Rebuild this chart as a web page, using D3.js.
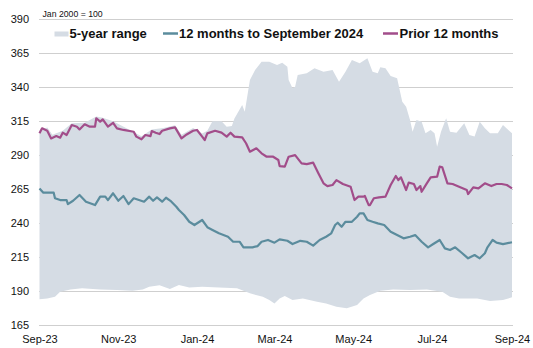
<!DOCTYPE html>
<html><head><meta charset="utf-8">
<script src="https://cdn.jsdelivr.net/npm/d3@7"></script>
<style>
html,body{margin:0;padding:0;background:#fff;}
svg{display:block;font-family:"Liberation Sans",Arial,sans-serif;}
</style></head>
<body><svg id="c" width="533" height="348"></svg>
<script>
// ---- data ----
const yTicks = [165, 190, 215, 240, 265, 290, 315, 340, 365, 390];
const xTickDates = ["2023-09-01","2023-11-01","2024-01-01","2024-03-01","2024-05-01","2024-07-01","2024-09-01"];
const unitLabel = "Jan 2000 = 100";
const legendLabels = ["5-year range", "12 months to September 2024", "Prior 12 months"];

const series12m = [
["2023-09-01",265.5],["2023-09-04",262.4],["2023-09-12",262.4],["2023-09-13",258.3],["2023-09-17",257],
["2023-09-22",257],["2023-09-23",254],["2023-09-27",256.5],["2023-10-02",260.7],["2023-10-07",255.8],
["2023-10-14",253.3],["2023-10-18",259.5],["2023-10-22",259.5],["2023-10-24",257],["2023-10-28",262],
["2023-11-01",256.5],["2023-11-05",260],["2023-11-09",254],["2023-11-13",258.3],["2023-11-21",255.8],
["2023-11-25",259.5],["2023-11-28",256.5],["2023-12-01",259],["2023-12-05",255.8],["2023-12-08",258.7],
["2023-12-12",256],["2023-12-16",252.1],["2023-12-18",249.7],["2023-12-22",246],["2023-12-26",241],
["2023-12-30",238.6],["2024-01-05",242.3],["2024-01-09",237],["2024-01-13",235],["2024-01-18",232.5],
["2024-01-25",230],["2024-01-29",226.3],["2024-02-03",226.3],["2024-02-06",222.2],["2024-02-13",222.2],
["2024-02-17",223.1],["2024-02-20",226.3],["2024-02-25",227.6],["2024-03-01",225.6],["2024-03-05",228],
["2024-03-11",227],["2024-03-15",224.6],["2024-03-21",227],["2024-03-26",226.3],["2024-03-31",223.4],
["2024-04-05",227.6],["2024-04-10",230],["2024-04-14",232.5],["2024-04-17",238.6],["2024-04-19",240.3],
["2024-04-22",237.3],["2024-04-25",241],["2024-04-30",241],["2024-05-04",244.7],["2024-05-06",247.2],
["2024-05-09",247.2],["2024-05-12",242.3],["2024-05-16",241],["2024-05-20",239.8],["2024-05-25",238.6],
["2024-05-30",233.7],["2024-06-04",231.2],["2024-06-09",228.8],["2024-06-14",230],["2024-06-18",231.2],
["2024-06-23",226.3],["2024-06-28",222.2],["2024-07-02",224.6],["2024-07-07",227.6],["2024-07-11",221.4],
["2024-07-15",220.2],["2024-07-19",222.2],["2024-07-24",218.2],["2024-07-29",214.1],["2024-08-03",216.5],
["2024-08-07",214.1],["2024-08-11",217.8],["2024-08-13",222.2],["2024-08-17",227.6],["2024-08-20",225.6],
["2024-08-25",224.6],["2024-09-01",225.9]
];

const seriesPrior = [
["2023-09-01",306.1],["2023-09-03",309.8],["2023-09-07",308],["2023-09-10",302.4],["2023-09-14",304.1],
["2023-09-17",302.9],["2023-09-19",306.6],["2023-09-22",304.9],["2023-09-26",312.2],["2023-09-30",311],
["2023-10-02",309],["2023-10-06",312.8],["2023-10-10",311],["2023-10-14",311],["2023-10-15",317.2],
["2023-10-18",314.7],["2023-10-20",316.4],["2023-10-24",311],["2023-10-28",313.9],["2023-10-31",309.8],
["2023-11-05",308.6],["2023-11-13",307.3],["2023-11-15",303.7],["2023-11-19",301.7],["2023-11-22",304.9],
["2023-11-26",304.1],["2023-11-27",307.8],["2023-11-30",306.6],["2023-12-03",305.6],["2023-12-05",308],
["2023-12-11",309.8],["2023-12-15",310.5],["2023-12-20",302.4],["2023-12-24",305.3],["2023-12-29",308],
["2024-01-01",308.6],["2024-01-05",303.7],["2024-01-07",301.2],["2024-01-09",306.1],["2024-01-15",308],
["2024-01-20",306.6],["2024-01-24",303.7],["2024-01-27",306.6],["2024-01-30",303.7],["2024-02-05",303.2],
["2024-02-08",298.8],["2024-02-11",292.6],["2024-02-16",295.1],["2024-02-20",291.4],["2024-02-24",288.9],
["2024-02-29",288.9],["2024-03-04",286.5],["2024-03-05",282],["2024-03-09",281.6],["2024-03-12",288.9],
["2024-03-17",290.1],["2024-03-22",284],["2024-03-26",283.5],["2024-03-31",284.5],["2024-04-04",276.7],
["2024-04-08",269.3],["2024-04-11",267.3],["2024-04-15",268.1],["2024-04-18",271.7],["2024-04-23",268.8],
["2024-04-29",266.8],["2024-05-02",257],["2024-05-05",259.5],["2024-05-09",259.5],["2024-05-10",260],
["2024-05-13",253.3],["2024-05-14",253.3],["2024-05-17",258.3],["2024-05-21",259],["2024-05-26",259.5],
["2024-05-30",268.1],["2024-06-03",274.7],["2024-06-05",271.7],["2024-06-07",273.7],["2024-06-11",264.4],
["2024-06-13",269.8],["2024-06-17",268.8],["2024-06-19",264.4],["2024-06-22",267.3],["2024-06-23",263.1],
["2024-06-27",269.3],["2024-06-30",273.7],["2024-07-05",274.2],["2024-07-07",281.6],["2024-07-09",281.1],
["2024-07-13",269.3],["2024-07-17",268.8],["2024-07-22",266.8],["2024-07-28",264.4],["2024-07-29",261.4],
["2024-08-02",266.3],["2024-08-06",265.6],["2024-08-11",269.3],["2024-08-16",267.3],["2024-08-20",268.8],
["2024-08-24",268.8],["2024-08-28",268.1],["2024-09-01",265.6]
];

const rangeHigh = [
["2023-09-01",308],["2023-09-07",310.5],["2023-09-11",305],["2023-09-19",308],["2023-09-26",313.5],
["2023-10-06",314],["2023-10-15",318.5],["2023-10-20",317.5],["2023-10-28",315],["2023-11-07",310],
["2023-11-19",304],["2023-11-27",309],["2023-12-06",310],["2023-12-15",312],["2023-12-20",305],
["2023-12-29",310],["2024-01-05",306],["2024-01-09",308],["2024-01-13",315],["2024-01-20",315],
["2024-01-24",311],["2024-01-28",311.5],["2024-01-30",317],["2024-02-05",327],["2024-02-07",322],
["2024-02-11",345.4],["2024-02-15",352.7],["2024-02-20",358.9],["2024-02-26",358.9],["2024-03-03",356.4],
["2024-03-07",358.1],["2024-03-11",355.2],["2024-03-12",345.4],["2024-03-15",339.3],["2024-03-17",340.4],
["2024-03-19",349],["2024-03-26",350.3],["2024-04-01",354],["2024-04-08",351.5],["2024-04-15",352.7],
["2024-04-20",344.1],["2024-04-25",351.5],["2024-04-30",360.1],["2024-05-06",357.7],["2024-05-12",361.4],
["2024-05-16",351.5],["2024-05-20",350.3],["2024-05-22",354.7],["2024-05-26",354],["2024-05-30",348.3],
["2024-06-04",346.6],["2024-06-08",329.4],["2024-06-11",325.7],["2024-06-14",315.9],["2024-06-16",307.3],
["2024-06-19",315.9],["2024-06-23",314.7],["2024-06-26",306.1],["2024-06-30",308.6],["2024-07-03",306.1],
["2024-07-05",296.3],["2024-07-08",307.3],["2024-07-12",317.2],["2024-07-15",307.3],["2024-07-20",306.6],
["2024-07-26",313.5],["2024-07-30",304.9],["2024-08-03",303.7],["2024-08-07",314.7],["2024-08-11",309.8],
["2024-08-15",306.1],["2024-08-21",306.1],["2024-08-25",312.2],["2024-09-01",306.1]
];

const rangeLow = [
["2023-09-01",183.9],["2023-09-07",184.6],["2023-09-13",185.8],["2023-09-17",189.5],["2023-09-25",191.2],
["2023-10-04",192],["2023-10-18",191.2],["2023-10-31",190.7],["2023-11-12",190.2],["2023-11-20",191.2],
["2023-11-25",193.2],["2023-12-03",194.2],["2023-12-11",191.5],["2023-12-18",194.4],["2023-12-26",192.7],
["2024-01-05",193.2],["2024-01-18",192.7],["2024-02-01",192],["2024-02-11",188.3],["2024-02-21",185.8],
["2024-02-26",183.4],["2024-03-01",180.9],["2024-03-05",184.6],["2024-03-09",186.3],["2024-03-15",183.4],
["2024-03-23",184.6],["2024-04-03",182.1],["2024-04-10",180.9],["2024-04-18",178.4],["2024-04-26",177.3],
["2024-05-04",179.7],["2024-05-09",184.6],["2024-05-14",187.1],["2024-05-22",190.2],["2024-06-01",191.2],
["2024-06-14",190.7],["2024-06-27",191.2],["2024-07-09",189.5],["2024-07-15",185.8],["2024-07-22",184.6],
["2024-08-05",184.6],["2024-08-15",182.6],["2024-08-25",183.4],["2024-09-01",185.4]
];

// ---- chart ----
const parse = d3.timeParse("%Y-%m-%d");
const svg = d3.select("#c");
const x = d3.scaleTime().domain([parse("2023-09-01"), parse("2024-09-01")]).range([39.5, 512]);
const y = d3.scaleLinear().domain([165, 390]).range([325, 19.4]);

const colRange = "#d5dce4", colBlue = "#5b8c9d", colPurple = "#a24d8a", colGrid = "#cfcfcf";

// gridlines
svg.append("g").selectAll("line").data(yTicks).join("line")
  .attr("x1", 39).attr("x2", 513)
  .attr("y1", d => Math.round(y(d)) + 0.5).attr("y2", d => Math.round(y(d)) + 0.5)
  .attr("stroke", colGrid).attr("stroke-width", 1.2);

// range area
const ln = d3.line().x(d => x(parse(d[0]))).y(d => y(d[1])).curve(d3.curveLinear);
const up = ln(rangeHigh);
const lo = ln(rangeLow.slice().reverse());
svg.append("path").attr("d", up + "L" + lo.slice(1) + "Z").attr("fill", colRange);

// lines
svg.append("path").attr("d", ln(seriesPrior)).attr("fill", "none")
  .attr("stroke", colPurple).attr("stroke-width", 2.2).attr("stroke-linejoin", "round");
svg.append("path").attr("d", ln(series12m)).attr("fill", "none")
  .attr("stroke", colBlue).attr("stroke-width", 2.2).attr("stroke-linejoin", "round");

// y axis labels
const yAx = svg.append("g").attr("transform", "translate(29,0)")
  .call(d3.axisLeft(y).tickValues(yTicks).tickSize(0).tickPadding(0).tickFormat(d3.format("d")));
yAx.select(".domain").remove();
yAx.selectAll("text").attr("font-size", 11).attr("fill", "#111")
  .attr("font-family", "Liberation Sans, Arial, sans-serif");

// x axis labels
const fmt = d3.timeFormat("%b-%y");
const xAx = svg.append("g").attr("transform", "translate(0,335)")
  .call(d3.axisBottom(x).tickValues(xTickDates.map(parse)).tickSize(0).tickPadding(0).tickFormat(fmt));
xAx.select(".domain").remove();
xAx.selectAll("text").attr("font-size", 11).attr("fill", "#111")
  .attr("font-family", "Liberation Sans, Arial, sans-serif");

// unit label
svg.append("text").attr("x", 42.5).attr("y", 16.5).attr("font-size", 8.7).attr("fill", "#111")
  .text(unitLabel);

// legend
const lg = svg.append("g").attr("font-size", 13).attr("font-weight", "bold").attr("fill", "#111");
lg.append("rect").attr("x", 54.5).attr("y", 31.5).attr("width", 14).attr("height", 5).attr("fill", colRange);
lg.append("text").attr("x", 69.5).attr("y", 38).text(legendLabels[0]);
lg.append("line").attr("x1", 163).attr("x2", 178).attr("y1", 33.5).attr("y2", 33.5)
  .attr("stroke", colBlue).attr("stroke-width", 2.5);
lg.append("text").attr("x", 179).attr("y", 38).text(legendLabels[1]);
lg.append("line").attr("x1", 383).attr("x2", 398).attr("y1", 33.5).attr("y2", 33.5)
  .attr("stroke", colPurple).attr("stroke-width", 2.5);
lg.append("text").attr("x", 399.5).attr("y", 38).text(legendLabels[2]);
</script></body></html>
